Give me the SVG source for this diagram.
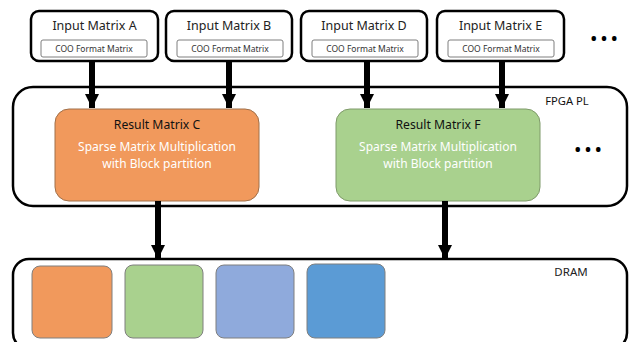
<svg xmlns="http://www.w3.org/2000/svg" width="631" height="342" viewBox="0 0 631 342">
<defs>
<style>
.in{fill:#fff;stroke:#000;stroke-width:2.5}
.coo{fill:#fff;stroke:#7f7f7f;stroke-width:1}
.t{font-family:"Noto Sans","Open Sans",sans-serif;text-anchor:middle}
.tl{font-size:12.5px;fill:#222}
.ts{font-size:8.5px;fill:#333}
.tw{font-size:12px;fill:#fff}
.tb{font-size:12.2px;fill:#111}
.cont{fill:#fff;stroke:#000;stroke-width:2.5}
.blk{stroke:#7f7f7f;stroke-width:1}
.shaft{stroke:#000;stroke-width:6}
</style>
<marker id="ah" viewBox="0 0 10 10" refX="10" refY="5" markerWidth="2.4" markerHeight="2.4" orient="auto" markerUnits="strokeWidth">
<path d="M0,0 L10,5 L0,10 z" fill="#000"/>
</marker>
</defs>
<rect width="631" height="342" fill="#fff"/>

<g id="fpga">
<rect class="cont" x="13" y="87" width="614" height="119" rx="20"/>
<text class="t" x="567" y="105" font-size="11.2" fill="#111">FPGA PL</text>
<text class="t" x="588" y="155" font-size="16" font-weight="bold" fill="#000">• • •</text>
</g>

<g id="dram">
<rect class="cont" x="13" y="259" width="614" height="90" rx="16"/>
<text class="t" x="571" y="276" font-size="11.5" fill="#222">DRAM</text>
<rect class="blk" x="32" y="266" width="80" height="72" rx="8" fill="#F1995C"/>
<rect class="blk" x="125" y="265" width="78" height="73" rx="8" fill="#A9D18E"/>
<rect class="blk" x="216" y="265" width="78" height="73" rx="8" fill="#8FAADC"/>
<rect class="blk" x="307" y="264" width="78" height="74" rx="8" fill="#5B9BD5"/>
</g>

<g id="inputA">
<rect class="in" x="31" y="11" width="127" height="50" rx="8"/>
<text class="t tl" x="94.5" y="30">Input Matrix A</text>
<rect class="coo" x="41" y="40" width="106" height="17" rx="2"/>
<text class="t ts" x="94" y="51.5">COO Format Matrix</text>
</g>
<g id="inputB">
<rect class="in" x="166" y="11" width="126" height="50" rx="8"/>
<text class="t tl" x="229" y="30">Input Matrix B</text>
<rect class="coo" x="177" y="40" width="106" height="17" rx="2"/>
<text class="t ts" x="230" y="51.5">COO Format Matrix</text>
</g>
<g id="inputD">
<rect class="in" x="301" y="11" width="126" height="50" rx="8"/>
<text class="t tl" x="364" y="30">Input Matrix D</text>
<rect class="coo" x="312" y="40" width="106" height="17" rx="2"/>
<text class="t ts" x="365" y="51.5">COO Format Matrix</text>
</g>
<g id="inputE">
<rect class="in" x="437" y="11" width="127" height="50" rx="8"/>
<text class="t tl" x="500.5" y="30">Input Matrix E</text>
<rect class="coo" x="448" y="40" width="106" height="17" rx="2"/>
<text class="t ts" x="501" y="51.5">COO Format Matrix</text>
<text class="t" x="604" y="44" font-size="16" font-weight="bold" fill="#000">• • •</text>
</g>

<g id="resultC">
<rect x="55" y="109" width="204" height="92" rx="14" fill="#F1995C" stroke="#A0704A" stroke-width="1"/>
<text class="t tb" x="157" y="129">Result Matrix C</text>
<text class="t tw" x="157" y="151">Sparse Matrix Multiplication</text>
<text class="t tw" x="157" y="167.5">with Block partition</text>
</g>
<g id="resultF">
<rect x="336" y="109" width="204" height="92" rx="14" fill="#A9D18E" stroke="#7F9A6A" stroke-width="1"/>
<text class="t tb" x="438" y="129">Result Matrix F</text>
<text class="t tw" x="438" y="151">Sparse Matrix Multiplication</text>
<text class="t tw" x="438" y="167.5">with Block partition</text>
</g>

<g id="connectors">
<line class="shaft" x1="92" y1="61" x2="92" y2="108" marker-end="url(#ah)"/>
<line class="shaft" x1="229" y1="61" x2="229" y2="108" marker-end="url(#ah)"/>
<line class="shaft" x1="367" y1="61" x2="367" y2="108" marker-end="url(#ah)"/>
<line class="shaft" x1="502" y1="61" x2="502" y2="108" marker-end="url(#ah)"/>
<line class="shaft" x1="158" y1="201" x2="158" y2="259" marker-end="url(#ah)"/>
<line class="shaft" x1="445" y1="201" x2="445" y2="259" marker-end="url(#ah)"/>
</g>
</svg>
